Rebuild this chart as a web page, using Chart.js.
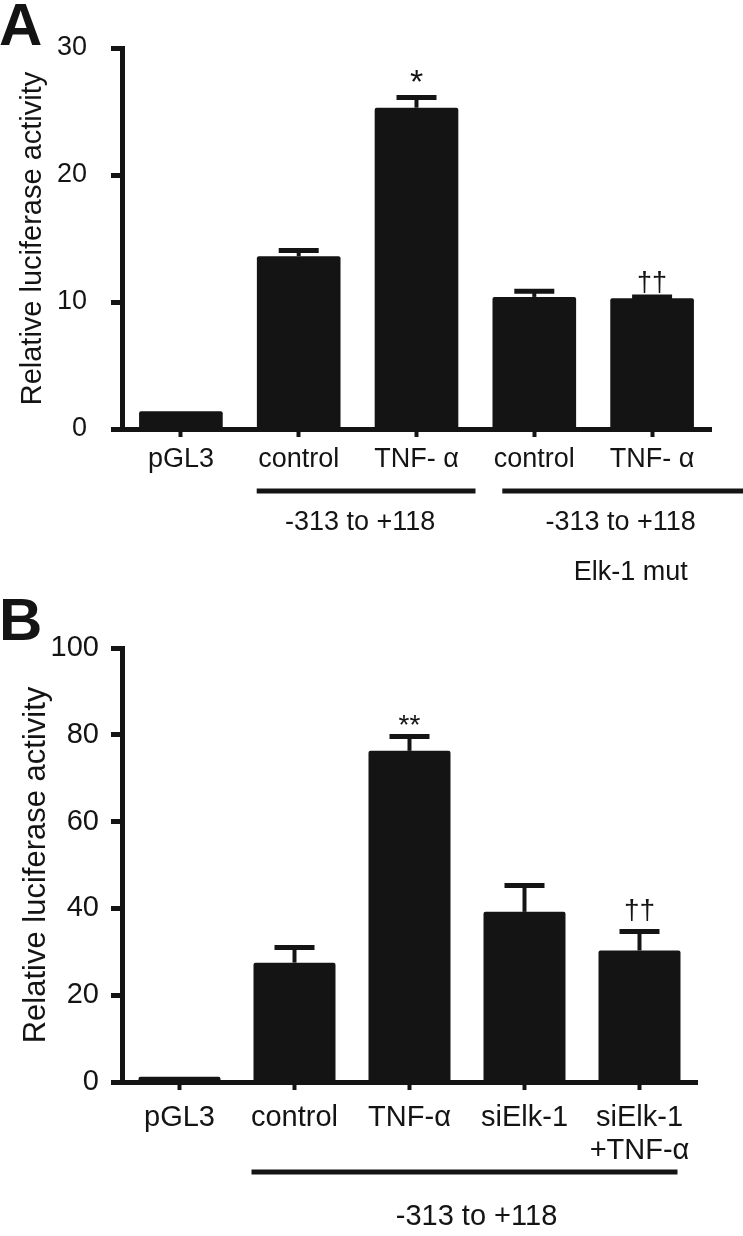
<!DOCTYPE html>
<html lang="en">
<head>
  <meta charset="UTF-8">
  <title>Relative luciferase activity</title>
  <script src="https://cdn.jsdelivr.net/npm/chart.js"></script>
  <style>
    body { margin: 0; background: #fff; }
    .panel { position: absolute; left: 0; }
  </style>
</head>
<body>
  <!-- panel A and panel B, stacked -->
  <canvas id="chartA" class="panel" width="743" height="600" style="top:0"></canvas>
  <canvas id="chartB" class="panel" width="743" height="646" style="top:590px"></canvas>

  <script>
    // Panel A data
    const labelsA = ['pGL3', 'control', 'TNF- α', 'control', 'TNF- α'];
    const meanA = [1.4, 13.6, 25.3, 10.4, 10.3];
    const errA = [null, 0.45, 0.8, 0.45, 0.1];
    const sigA = ['', '', '*', '', '††'];
    const ticksA = [0, 10, 20, 30];

    // Panel B data
    const labelsB = ['pGL3', 'control', 'TNF-α', 'siElk-1', ['siElk-1', '+TNF-α']];
    const meanB = [1.2, 27.5, 76.3, 39.2, 30.3];
    const errB = [null, 3.5, 3.3, 6.1, 4.4];
    const sigB = ['', '', '**', '', '††'];
    const ticksB = [0, 20, 40, 60, 80, 100];

    const INK = '#141414';
    const FONT = "'Liberation Sans', Arial, sans-serif";
    Chart.defaults.font.family = FONT;
    Chart.defaults.color = INK;

    // error bars + significance marks
    const errorBars = {
      id: 'errorBars',
      afterDatasetsDraw(chart, args, opts) {
        const { ctx } = chart;
        const x = chart.scales.x, y = chart.scales.y;
        ctx.save();
        ctx.strokeStyle = INK;
        ctx.fillStyle = INK;
        opts.mean.forEach((m, i) => {
          const cx = x.getPixelForValue(i);
          let cap = y.getPixelForValue(m);
          if (opts.err[i] != null) {
            cap = y.getPixelForValue(m + opts.err[i]);
            ctx.lineWidth = 4;
            ctx.beginPath();
            ctx.moveTo(cx, y.getPixelForValue(m));
            ctx.lineTo(cx, cap);
            ctx.stroke();
            ctx.lineWidth = 5;
            ctx.beginPath();
            ctx.moveTo(cx - 20, cap);
            ctx.lineTo(cx + 20, cap);
            ctx.stroke();
          }
          const s = opts.sig[i];
          if (s) {
            const star = s.indexOf('*') >= 0;
            ctx.font = (star ? opts.starSize : opts.dagSize) + 'px ' + FONT;
            ctx.textAlign = 'center';
            ctx.textBaseline = 'middle';
            ctx.fillText(s, cx, cap - (star ? opts.starGap : opts.dagGap));
          }
        });
        ctx.restore();
      }
    };

    function makeChart(id, labels, mean, err, sig, ticks, cfg) {
      return new Chart(document.getElementById(id), {
        type: 'bar',
        data: {
          labels: labels,
          datasets: [{
            data: mean,
            backgroundColor: INK,
            borderRadius: 2,
            borderSkipped: 'bottom',
            barPercentage: cfg.barPct,
            categoryPercentage: 1
          }]
        },
        options: {
          responsive: false,
          animation: false,
          layout: { padding: cfg.padding },
          plugins: {
            legend: { display: false },
            tooltip: { enabled: false },
            errorBars: {
              mean: mean, err: err, sig: sig,
              starSize: cfg.starSize, starGap: cfg.starGap,
              dagSize: cfg.dagSize, dagGap: cfg.dagGap
            }
          },
          scales: {
            x: {
              offset: true,
              ticks: { color: INK, font: { size: cfg.labelSize, lineHeight: 1.12 }, padding: cfg.xPad, maxRotation: 0, minRotation: 0, autoSkip: false },
              grid: { drawOnChartArea: false, offset: false, tickLength: 8, tickWidth: 4, tickColor: INK },
              border: { display: true, width: 5, color: INK },
              afterFit(s) { s.height = cfg.xHeight; }
            },
            y: {
              min: 0,
              max: ticks[ticks.length - 1],
              afterBuildTicks(s) { s.ticks = ticks.map(v => ({ value: v })); },
              ticks: { color: INK, font: { size: cfg.tickSize }, padding: cfg.yPad },
              grid: { drawOnChartArea: false, tickLength: 11, tickWidth: 5, tickColor: INK },
              border: { display: true, width: 5, color: INK },
              title: {
                display: true,
                text: 'Relative luciferase activity',
                color: INK,
                font: { size: cfg.titleSize },
                padding: { top: cfg.titlePad, bottom: 0 }
              },
              afterFit(s) { s.width = 122; }
            }
          }
        },
        plugins: [errorBars, {
          id: 'extras',
          afterDraw(chart) { cfg.draw(chart); }
        }]
      });
    }

    function text(ctx, str, x, y, size, weight) {
      ctx.font = (weight || '') + ' ' + size + 'px ' + FONT;
      ctx.fillText(str, x, y);
    }

    function hline(ctx, x1, x2, y) {
      ctx.lineWidth = 5;
      ctx.beginPath();
      ctx.moveTo(x1, y);
      ctx.lineTo(x2, y);
      ctx.stroke();
    }

    makeChart('chartA', labelsA, meanA, errA, sigA, ticksA, {
      barPct: 0.71, padding: { top: 48, right: 32, left: 0, bottom: 0 },
      labelSize: 27, tickSize: 27, titleSize: 29, titlePad: 16,
      xPad: 7, yPad: 24, xHeight: 171,
      starSize: 34, starGap: 14, dagSize: 27, dagGap: 13,
      draw(chart) {
        const { ctx } = chart;
        const x = chart.scales.x;
        ctx.save();
        ctx.fillStyle = INK; ctx.strokeStyle = INK;
        ctx.textBaseline = 'alphabetic'; ctx.textAlign = 'left';
        text(ctx, 'A', -1, 45, 60, 'bold');
        const l1a = x.getPixelForValue(1) - 42, l1b = x.getPixelForValue(2) + 59;
        const l2a = x.getPixelForValue(3) - 32, l2b = chart.width;
        hline(ctx, l1a, l1b, 491);
        hline(ctx, l2a, l2b, 491);
        ctx.textAlign = 'center'; ctx.textBaseline = 'middle';
        text(ctx, '-313 to +118', (l1a + l1b) / 2 - 6, 523, 27);
        text(ctx, '-313 to +118', (l2a + l2b) / 2 - 2, 523, 27);
        text(ctx, 'Elk-1 mut', (l2a + l2b) / 2 + 8, 573, 27);
        ctx.restore();
      }
    });

    makeChart('chartB', labelsB, meanB, errB, sigB, ticksB, {
      barPct: 0.713, padding: { top: 58, right: 46, left: 0, bottom: 0 },
      labelSize: 29, tickSize: 29, titleSize: 31, titlePad: 18,
      xPad: 12, yPad: 12, xHeight: 154,
      starSize: 28, starGap: 10, dagSize: 28, dagGap: 20,
      draw(chart) {
        const { ctx } = chart;
        const x = chart.scales.x;
        ctx.save();
        ctx.fillStyle = INK; ctx.strokeStyle = INK;
        ctx.textBaseline = 'alphabetic'; ctx.textAlign = 'left';
        text(ctx, 'B', -1, 50, 60, 'bold');
        const la = x.getPixelForValue(1) - 43, lb = x.getPixelForValue(4) + 38;
        hline(ctx, la, lb, 582);
        ctx.textAlign = 'center'; ctx.textBaseline = 'middle';
        text(ctx, '-313 to +118', (la + lb) / 2 + 12, 627, 29);
        ctx.restore();
      }
    });
  </script>
</body>
</html>
